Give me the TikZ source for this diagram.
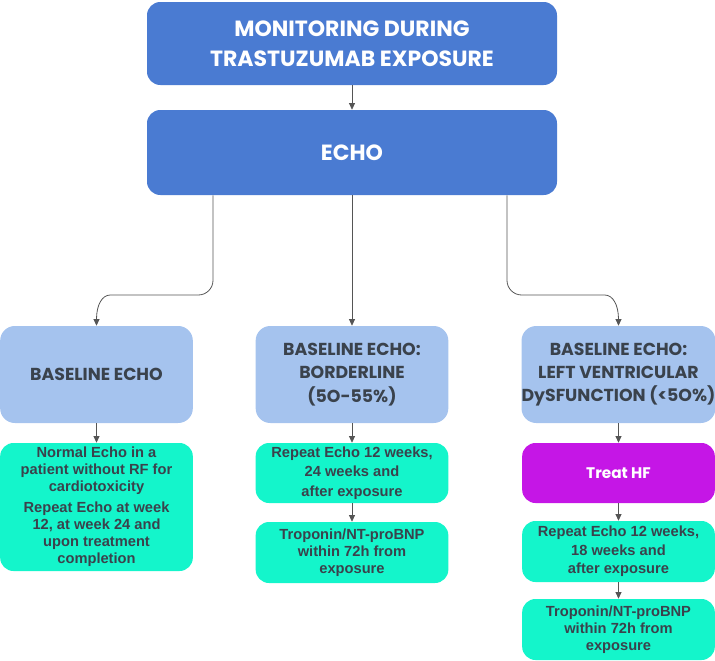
\documentclass[tikz,border=0pt]{standalone}
\usepackage{fontspec}
\setmainfont{Liberation Sans}
\newfontfamily\headfont{Poppins}
\usetikzlibrary{arrows.meta}
\definecolor{topblue}{HTML}{4A7BD2}
\definecolor{lightblue}{HTML}{A5C3EE}
\definecolor{mint}{HTML}{14F5CB}
\definecolor{violet}{HTML}{C516E6}
\definecolor{ink}{HTML}{3A424C}
\definecolor{linegray}{HTML}{555555}
\tikzset{
  head/.style={fill=topblue, rounded corners=10pt, text=white, align=center,
    minimum width=307.5pt, font=\headfont\bfseries\fontsize{16.5}{22.5}\selectfont},
  basebox/.style={fill=lightblue, rounded corners=11pt, text=ink, align=center,
    minimum width=144.5pt, minimum height=72.75pt, inner sep=0pt,
    font=\headfont\bfseries\fontsize{13}{17.5}\selectfont},
  plan/.style={fill=mint, rounded corners=10pt, text=ink, align=center,
    minimum width=144.5pt, inner sep=0pt, font=\bfseries\fontsize{11}{12.8}\selectfont},
  link/.style={draw=linegray, line width=0.6pt, -{Triangle[length=5pt,width=4.5pt]}}
}
\begin{document}
\begin{tikzpicture}[x=0.75pt,y=-0.75pt]
  \useasboundingbox (0,0) rectangle (715,661);
  \node [head, minimum height=62.25pt] (monitor) at (352,43.5) {MONITORING DURING\\TRASTUZUMAB EXPOSURE};
  \node [head, minimum height=63.75pt] (echo) at (352,152.5) {ECHO};
  \node [basebox] (base-normal) at (96.5,374.5) {BASELINE ECHO};
  \node [basebox] (base-border) at (352,374.5) {BASELINE ECHO:\\BORDERLINE\\(5O-55\%)};
  \node [basebox] (base-lvd) at (618.5,374.5) {BASELINE ECHO:\\LEFT VENTRICULAR\\DySFUNCTION (<5O\%)};
  \node [plan, minimum height=96pt] (normal-plan) at (96.5,507)
    {Normal Echo in a\\patient without RF for\\cardiotoxicity\\[3pt]Repeat Echo at week\\12, at week 24 and\\upon treatment\\completion};
  \node [plan, minimum height=45pt, font=\bfseries\fontsize{11}{14.5}\selectfont] (border-repeat) at (352,473)
    {Repeat Echo 12 weeks,\\24 weeks and\\after exposure};
  \node [plan, minimum height=45.75pt] (border-trop) at (352,552.5) {Troponin/NT-proBNP\\within 72h from\\exposure};
  \node [plan, minimum height=45pt, fill=violet, text=white, font=\headfont\bfseries\fontsize{11.5}{13}\selectfont] (lvd-treat) at (618.5,473) {Treat HF};
  \node [plan, minimum height=45.75pt, font=\bfseries\fontsize{11}{14}\selectfont] (lvd-repeat) at (618.5,551.5)
    {Repeat Echo 12 weeks,\\18 weeks and\\after exposure};
  \node [plan, minimum height=45.75pt] (lvd-trop) at (618.5,629.5) {Troponin/NT-proBNP\\within 72h from\\exposure};
  % echo branches
  \draw [link] (monitor) to (echo);
  \draw [link, rounded corners=11pt] (echo.south) ++(-139,0) |- (125,295) .. controls (102,295) and (96.5,305) .. (base-normal.north);
  \draw [link] (echo) to (base-border);
  \draw [link, rounded corners=11pt] (echo.south) ++(155,0) |- (590,295) .. controls (613,295) and (618.5,305) .. (base-lvd.north);
  % follow-up
  \draw [link] (base-normal) to (normal-plan);
  \draw [link] (base-border) to (border-repeat);
  \draw [link] (border-repeat) to (border-trop);
  \draw [link] (base-lvd) to (lvd-treat);
  \draw [link] (lvd-treat) to (lvd-repeat);
  \draw [link] (lvd-repeat) to (lvd-trop);
\end{tikzpicture}
\end{document}
